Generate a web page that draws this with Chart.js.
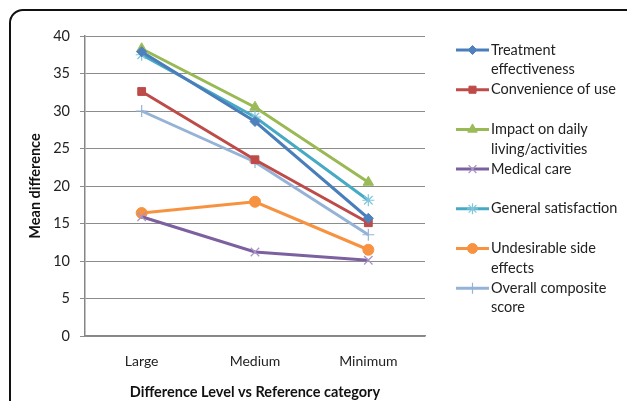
<!DOCTYPE html>
<html>
<head>
<meta charset="utf-8">
<script src="https://cdn.jsdelivr.net/npm/chart.js@4.4.1/dist/chart.umd.min.js"></script>
<style>
  html, body { margin: 0; padding: 0; background: #fff; overflow: hidden; }
  #wrap { position: relative; width: 627px; height: 401px; }
  #frame { position: absolute; left: 9px; top: 9px; width: 700px; height: 500px;
           border: 2px solid #111; border-radius: 14px; box-sizing: border-box; }
  canvas { position: absolute; left: 0; top: 0; }
</style>
</head>
<body>
<div id="wrap">
  <div id="frame"></div>
  <canvas id="chart" width="627" height="401"></canvas>
</div>
<script>
// categorias e séries
const categorias = ['Large', 'Medium', 'Minimum'];
const yTicks = [0, 5, 10, 15, 20, 25, 30, 35, 40];

const treatmentEffectiveness = [37.9, 28.6, 15.7];
const convenienceOfUse = [32.6, 23.5, 15.1];
const impactDailyLiving = [38.3, 30.5, 20.5];
const medicalCare = [15.9, 11.2, 10.1];
const generalSatisfaction = [37.5, 29.2, 18.1];
const undesirableSideEffects = [16.4, 17.9, 11.5];
const overallComposite = [30.0, 23.2, 13.5];

const legendLines = [
    ['Treatment', 'effectiveness'],
    ['Convenience of use'],
    ['Impact on daily', 'living/activities'],
    ['Medical care'],
    ['General satisfaction'],
    ['Undesirable side', 'effects'],
    ['Overall composite', 'score']
];

const FONT = 'Lato, "Open Sans", sans-serif';

function serie(label, data, cor, marcador, raio, corMarcador) {
    return {
        label: label,
        data: data,
        borderColor: cor,
        backgroundColor: corMarcador || cor,
        pointBorderColor: corMarcador || cor,
        pointBackgroundColor: corMarcador || cor,
        borderWidth: 3,
        pointStyle: marcador,
        pointRadius: raio,
        pointBorderWidth: (marcador === 'crossRot' || marcador === 'star' || marcador === 'cross') ? 1.2 : 1,
        tension: 0
    };
}

const datasets = [
    serie('Treatment effectiveness', treatmentEffectiveness, '#4A7EBB', 'rectRot', 5, '#4F81BD'),
    serie('Convenience of use', convenienceOfUse, '#BE4B48', 'rect', 5.5, '#BE4B48'),
    serie('Impact on daily living/activities', impactDailyLiving, '#98B954', 'triangle', 6, '#9BBB59'),
    serie('Medical care', medicalCare, '#7D60A0', 'crossRot', 6, '#A894C6'),
    serie('General satisfaction', generalSatisfaction, '#46AAC5', 'star', 6, '#7FC6DA'),
    serie('Undesirable side effects', undesirableSideEffects, '#F69240', 'circle', 5.5, '#F69240'),
    serie('Overall composite score', overallComposite, '#95B3D7', 'cross', 6, '#95B3D7')
];

// legenda desenhada à mão (textos em duas linhas)
const legendaPlugin = {
    id: 'legendaManual',
    afterDraw(chart) {
        const ctx = chart.ctx;
        const x0 = 456, x1 = 489, xt = 491;
        const y0 = 50, passo = 39.7, linha = 19.5;
        ctx.save();
        chart.data.datasets.forEach((ds, i) => {
            const y = y0 + i * passo;
            ctx.strokeStyle = ds.borderColor;
            ctx.lineWidth = 3;
            ctx.beginPath();
            ctx.moveTo(x0, y);
            ctx.lineTo(x1, y);
            ctx.stroke();
            ctx.fillStyle = ds.pointBackgroundColor;
            ctx.strokeStyle = ds.pointBorderColor;
            ctx.lineWidth = ds.pointBorderWidth;
            Chart.helpers.drawPoint(ctx, {
                pointStyle: ds.pointStyle,
                radius: ds.pointRadius - 0.5,
                borderWidth: ds.pointBorderWidth,
                rotation: 0
            }, (x0 + x1) / 2, y);
            ctx.fillStyle = '#222';
            ctx.font = '14.5px ' + FONT;
            ctx.textBaseline = 'middle';
            ctx.textAlign = 'left';
            legendLines[i].forEach((t, k) => ctx.fillText(t, xt, y + k * linha));
        });
        ctx.restore();
    }
};

new Chart(document.getElementById('chart'), {
    type: 'line',
    data: { labels: categorias, datasets: datasets },
    plugins: [legendaPlugin],
    options: {
        responsive: false,
        animation: false,
        layout: { padding: { left: 27, right: 202, top: 36, bottom: 0 } },
        plugins: { legend: { display: false }, tooltip: { enabled: false } },
        scales: {
            x: {
                offset: true,
                grid: { display: false, drawTicks: false },
                border: { color: '#868686', width: 1.5 },
                ticks: { color: '#222', font: { family: FONT, size: 14 }, padding: 17 },
                title: {
                    display: true,
                    text: 'Difference Level vs Reference category',
                    color: '#111',
                    font: { family: FONT, size: 14.5, weight: 'bold' },
                    padding: { top: 8, bottom: 0 }
                },
                afterFit: s => { s.height = 65; }
            },
            y: {
                min: 0,
                max: 40,
                afterBuildTicks: s => { s.ticks = yTicks.map(v => ({ value: v })); },
                grid: { color: '#8C8C8C', lineWidth: 1, tickLength: 5, drawTicks: true },
                border: { color: '#868686', width: 1.5 },
                ticks: { color: '#222', font: { family: FONT, size: 14.5 }, padding: 10 },
                title: {
                    display: true,
                    text: 'Mean difference',
                    color: '#111',
                    font: { family: FONT, size: 14.5, weight: 'bold' },
                    padding: { top: 0, bottom: 0 }
                },
                afterFit: s => { s.width = 58; }
            }
        }
    }
});
</script>
</body>
</html>
